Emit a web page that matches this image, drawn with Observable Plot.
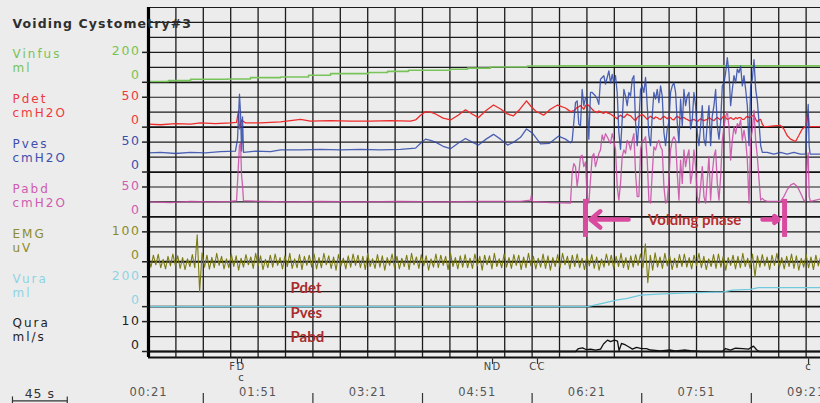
<!DOCTYPE html>
<html><head><meta charset="utf-8">
<script src="https://cdn.jsdelivr.net/npm/d3@7"></script>
<script src="https://cdn.jsdelivr.net/npm/@observablehq/plot@0.6"></script>
<style>
body{margin:0;background:#ececec;}
#chart{width:820px;height:403px;overflow:hidden;background:#ececec;}
</style></head><body><div id="chart"></div>
<script>
// ================= DATA =================
const title = "Voiding Cystometry#3";
const channelNames = ["Vinfus","Pdet","Pves","Pabd","EMG","Vura","Qura"];
const channelUnits = ["ml","cmH2O","cmH2O","cmH2O","uV","ml","ml/s"];
const channelTop   = [200, 50, 50, 50, 100, 200, 10];

// time axis (seconds)
const timeLabels = [21, 111, 201, 291, 381, 471, 561];
const timeTicks  = [66, 156, 246, 336, 426, 516];
const gridStep = 22.5;
const timeEnd = 572.8;
const scaleBarSeconds = 45;

// event markers
const eventNames  = ["FD", "c", "ND", "CC", "c"];
const eventTimes  = [94, 97.4, 303.5, 340.4, 563];

// voiding phase (s)
const voidingPhase = [379.8, 543.3];
const pressureNotes = ["Pdet", "Pves", "Pabd"];

// Vinfus (ml) [t, v]
const vinfus = [[21,5],[37.4,11],[55.5,20],[85.9,22],[104.8,31],[129.4,35],[152.4,47],[170.5,58],[201.7,65],[217.3,73],[234.5,80],[269,87],[283,95],[301.8,102],[332.2,109],[359.3,110],[572.8,110]];

// Pdet (cmH2O)
const pdetPre = [[21,5],[30.9,4],[43.2,6],[55.5,5],[63.7,7],[76,6],[88.3,7],[93.3,8],[94.9,27],[95.7,-3],[97.4,12],[100.7,7],[113,7],[129.4,9],[145.8,13],[154,10],[170.5,11],[186.9,10],[203.3,10],[219.7,11],[236.1,10],[240.3,12],[244.4,20],[248.5,26],[252.6,25],[256.7,22],[262.9,15],[269,12],[275.2,20],[281.3,29],[286.7,22],[292,16],[298.2,28],[304.3,37],[310.5,30],[315.6,22],[320.7,19],[326,30],[331.4,44],[335,35],[338.8,27],[345.4,20],[351,30],[356.9,37],[363.4,32]];
const pdetPost = [[529,1],[534.5,2],[540,3],[542.7,-3],[545.4,-14],[548.2,-20],[552.3,-24],[555,-14],[557.8,-3],[560.5,1],[561.9,18],[562.7,22],[563.5,1],[566,1],[572.8,1]];
// Pves (cmH2O)
const pvesPre = [[21,32],[30.9,33],[43.2,31],[55.5,33],[67.8,32],[80.1,34],[92.4,35],[94.1,55],[95.7,130],[96.6,97],[97.4,35],[98.2,92],[99,33],[108.9,35],[121.2,34],[129.4,37],[145.8,37],[162.2,38],[178.7,37],[195.1,38],[211.5,37],[227.9,38],[240.3,40],[244.4,48],[248.5,55],[252.6,53],[256.7,50],[262.9,43],[269,39],[275.2,48],[281.3,56],[286.7,50],[292,45],[298.2,55],[304.3,63],[310,55],[315.8,45],[321,50],[326.5,58],[331.4,72],[336.3,65],[342.9,47],[350.3,48],[357.6,60],[363.4,55]];
const pvesPost = [[529,33],[534.5,30],[540,33],[545.4,30],[550.9,33],[556.4,30],[560.5,30],[561.9,88],[562.7,113],[563.5,43],[564.3,30],[572.8,30]];
// Pabd (cmH2O)
const pabdPre = [[21,25],[39,24],[55.5,26],[71.9,25],[88.3,26],[93.3,27],[95.7,120],[96.6,123],[97.4,70],[98.2,53],[99,27],[113,26],[137.6,25],[162.2,26],[195.1,25],[227.9,26],[260.8,25],[293.6,26],[326.5,26],[334.7,28],[335.5,37],[336.3,26],[351.1,24]];
const pabdPost = [[529,26],[534.5,26],[540,26],[542.7,34],[545.4,45],[548.2,53],[550.9,56],[553.7,51],[556.4,40],[559.1,28],[560.5,26],[561.9,95],[562.7,107],[563.5,34],[564.6,26],[572.8,30]];

// voiding section, sampled every 1.37 s from 367.5 s
const voidStart = 367.5, voidStep = 1.37;
const pvesVoid = [49,52,83,116,119,80,77,138,111,124,
122,55,133,133,130,127,122,113,155,158,
161,147,158,169,149,163,149,161,133,66,
38,88,138,127,111,133,127,155,161,83,
44,83,138,144,133,158,111,61,44,94,
133,122,138,116,144,127,66,44,72,83,
133,144,149,133,83,49,122,77,138,111,
127,133,72,88,133,111,66,44,77,111,
55,44,83,111,44,94,111,138,77,55,
83,144,149,166,191,166,111,138,161,149,
172,166,177,144,161,138,111,44,144,155,
188,138,119,83,44,33,33];
const pabdVoid = [23,73,89,84,51,73,101,103,84,92,
34,23,62,101,106,84,95,106,112,137,
128,139,134,128,123,139,128,112,51,28,
56,101,112,106,128,123,112,128,139,73,
34,34,112,128,128,134,95,28,23,73,
117,112,123,128,117,112,51,23,28,62,
112,128,134,128,73,28,95,56,112,84,
101,112,56,73,112,84,34,23,51,84,
34,23,62,101,28,73,101,112,56,28,
67,128,151,167,176,151,95,128,151,139,
156,151,162,128,145,128,95,23,128,145,
178,128,101,62,28,31,28];
const pdetVoid = [26,27,27,30,33,34,36,33,30,36,
38,36,33,30,27,26,24,27,26,24,
23,26,24,23,22,20,18,16,14,18,
20,18,16,19,22,20,19,16,13,11,
16,18,20,21,19,16,13,16,18,16,
14,17,16,14,13,16,18,16,14,17,
16,13,12,16,18,16,14,16,16,14,
13,11,11,12,13,11,9,12,14,12,
11,12,13,16,14,12,11,14,16,14,
12,16,19,16,13,14,16,14,13,16,
14,16,16,13,13,16,18,16,17,19,
20,13,9,12,13,5,1];

// EMG (uV), sampled every 2 s from 21 s
const emgStart = 21, emgStep = 2;
const emg = [12,-18,22,-10,25,-20,8,-24,18,-14,
26,-12,20,-22,14,-26,10,-16,24,-20,
90,-100,30,-18,22,-25,15,-20,28,-12,
18,-24,10,-20,26,-16,20,-28,12,-18,
24,-10,16,-22,28,-14,20,-26,8,-20,
22,-18,26,-12,14,-24,20,-16,28,-22,
10,-20,24,-26,18,-12,22,-18,26,-24,
14,-20,28,-10,20,-22,16,-28,24,-14,
12,-24,20,-18,26,-12,22,-20,18,-26,
28,-16,10,-22,24,-18,20,-28,14,-12,
26,-20,18,-24,12,-16,22,-26,28,-10,
16,-22,24,-14,20,-28,10,-18,26,-20,
22,-12,18,-26,28,-16,14,-24,20,-18,
24,-20,12,-22,26,-14,18,-28,22,-10,
20,-24,28,-16,10,-20,26,-18,14,-22,
24,-12,22,-26,16,-20,28,-14,18,-24,
12,-18,26,-22,20,-28,14,-16,24,-20,
28,-10,18,-24,22,-16,26,-20,12,-26,
20,-14,24,-22,16,-28,10,-18,26,-12,
22,-24,18,-16,28,-20,14,-26,20,-18,
24,-12,26,-20,60,-70,22,-28,30,-18,
16,-22,28,-14,20,-26,12,-20,24,-16,
26,-18,14,-24,22,-12,28,-20,18,-26,
10,-16,24,-22,26,-18,20,-28,14,-12,
22,-24,18,-20,28,-16,12,-22,26,-50,
20,-18,24,-14,16,-26,22,-12,28,-20,
14,-24,18,-16,26,-22,20,-28,12,-18,
24,-20,16,-26,22,-14,18];

// Vura (ml)
const vura = [[21,0],[381.5,0],[394.6,24],[406.1,45],[414.3,56],[425,77],[439,84],[464.4,92],[493.2,99],[500.6,110],[515.3,116],[521.9,127],[572.8,127]];
// Qura (ml/s)
const qura = [[21,0],[371.6,0],[374.1,1],[377.4,1.2],[380.7,0.6],[384,0.8],[388.1,0.5],[392.2,0.8],[394.6,2.5],[397.9,3.8],[400.4,3.3],[403.7,3.8],[406.1,3.5],[407.4,0.3],[409.4,2.7],[412.7,2.2],[415.2,1.6],[418.4,0.8],[421.7,1.4],[425.8,1.0],[429.9,1.0],[433.2,0.5],[441.4,0.2],[449.7,0.5],[453.8,0.2],[462,0.5],[466.1,0.3],[474.3,0],[492.4,0],[494.8,1.0],[498.9,0.5],[503,1.1],[508.8,1.0],[513.7,0.8],[517.8,1.8],[520.3,0.6],[522.7,0],[572.8,0]];

// ================= LAYOUT / STYLE =================
const W = 820, H = 403, ML = 148, MT = 7, MB = 46;
const frameRows = 23.4;             // frame height in grid rows
const rowBase = i => 5 + 3 * i;     // zero line row of channel i
const rowOf = (ch, v) => rowBase(ch) - 2 * v / channelTop[ch];
const textColors = ["#79c353","#f03a3c","#3d4fad","#cf5cb0","#8b8b2c","#8fd4e3","#1e1e1e"];
const lineColors = ["#78c35a","#ee2b2b","#2e48a8","#c74aa6","#7b7b14","#6fcade","#111111"];
const pink = "#d84b9f", noteRed = "#a82c2c";
const tStart = timeLabels[0];
const spacing = {"chan-name": "2px", "chan-unit": "2px", "chan-value": "1.6px", "title": "1.1px", "time-label": "1px", "event-label": "1.3px"};

const fromPairs = (pairs, ch) => pairs.map(([t, v]) => ({t, r: rowOf(ch, v)}));
const fromSamples = (start, step, vals, ch) => vals.map((v, i) => ({t: start + i * step, r: rowOf(ch, v)}));

const series = [
  fromPairs(vinfus, 0),
  [...fromPairs(pdetPre, 1), ...fromSamples(voidStart, voidStep, pdetVoid, 1), ...fromPairs(pdetPost, 1)],
  [...fromPairs(pvesPre, 2), ...fromSamples(voidStart, voidStep, pvesVoid, 2), ...fromPairs(pvesPost, 2)],
  [...fromPairs(pabdPre, 3), ...fromSamples(voidStart, voidStep, pabdVoid, 3), ...fromPairs(pabdPost, 3)],
  fromSamples(emgStart, emgStep, emg, 4),
  fromPairs(vura, 5),
  fromPairs(qura, 6)
];

const gridTimes = d3.range(tStart, timeEnd, gridStep);
const zeroRows = channelNames.map((_, i) => rowBase(i));
const thinRows = d3.range(0, 24).filter(r => !zeroRows.includes(r));
const tickRows = channelNames.flatMap((_, i) => [rowBase(i) - 2, rowBase(i)]);
const topLabels = channelNames.map((_, i) => ({r: rowBase(i) - 2, s: String(channelTop[i]), c: textColors[i]}));
const zeroLabels = channelNames.map((_, i) => ({r: rowBase(i), s: "0", c: textColors[i]}));
const fmt = s => String(Math.floor(s / 60)).padStart(2, "0") + ":" + String(s % 60).padStart(2, "0");
const events = eventNames.map((n, i) => ({n, t: eventTimes[i], lvl: (i > 0 && eventTimes[i] - eventTimes[i-1] < 10) ? 1 : 0}));

const traceMarks = series.map((d, i) => Plot.line(d, {
  x: "t", y: "r", stroke: lineColors[i],
  strokeWidth: i === 0 ? 1.6 : (i === 4 ? 1.1 : 1.3),
  strokeOpacity: (i === 2 || i === 3) ? 0.85 : 1,
  curve: i === 0 ? "step-after" : "linear"
}));

const plot = Plot.plot({
  width: W, height: H,
  marginLeft: ML, marginRight: 0, marginTop: MT, marginBottom: MB,
  style: {background: "#ececec", fontFamily: "DejaVu Sans", overflow: "visible"},
  x: {domain: [tStart, timeEnd], axis: null},
  y: {domain: [frameRows, 0], axis: null},
  marks: [
    Plot.ruleY(thinRows, {y: d => d, stroke: "#1c1c1c", strokeWidth: 1.2}),
    Plot.ruleY(zeroRows, {y: d => d, stroke: "#111", strokeWidth: 1.8}),
    Plot.ruleY([frameRows], {y: d => d, stroke: "#111", strokeWidth: 2.2}),
    Plot.ruleX(gridTimes, {x: d => d, stroke: "#1c1c1c", strokeWidth: 1.3}),
    ...traceMarks,
    Plot.ruleX([tStart], {x: d => d, stroke: "#000", strokeWidth: 3.2}),
    Plot.tickY(tickRows, {y: d => d, insetLeft: -6, insetRight: W - ML, stroke: "#222", strokeWidth: 1.5}),
    // channel labels
    Plot.text(channelNames, {y: (d, i) => rowBase(i) - 2, frameAnchor: "left", dx: -136, dy: 2, textAnchor: "start",
      fill: (d, i) => textColors[i], fontSize: 12, ariaDescription: "chan-name"}),
    Plot.text(channelUnits, {y: (d, i) => rowBase(i) - 1, frameAnchor: "left", dx: -136, dy: 1, textAnchor: "start",
      fill: (d, i) => textColors[i], fontSize: 12, ariaDescription: "chan-unit"}),
    Plot.text(topLabels, {y: "r", text: "s", fill: "c", frameAnchor: "left", dx: -8, dy: -1, textAnchor: "end",
      fontSize: 12.5, ariaDescription: "chan-value"}),
    Plot.text(zeroLabels, {y: "r", text: "s", fill: "c", frameAnchor: "left", dx: -8, dy: -7, textAnchor: "end",
      fontSize: 12.5, ariaDescription: "chan-value"}),
    Plot.text([title], {frameAnchor: "top-left", dx: -136, dy: 12, textAnchor: "start", fill: "#2e2e2e",
      fontSize: 12.5, fontWeight: "bold", ariaDescription: "title"}),
    // time axis
    Plot.text(timeLabels, {x: d => d, text: d => fmt(d), frameAnchor: "bottom", dy: 38, fill: "#555", fontSize: 11.5, ariaDescription: "time-label"}),
    Plot.tickX(timeTicks, {x: d => d, insetTop: H - MB - MT + 36, insetBottom: -MB, stroke: "#333", strokeWidth: 1.2}),
    // scale bar
    Plot.link([scaleBarSeconds], {x1: tStart - 111.7, x2: d => tStart - 111.7 + d, y1: 26.3, y2: 26.3, stroke: "#333", strokeWidth: 1.2}),
    Plot.link([0, scaleBarSeconds], {x1: d => tStart - 111.7 + d, x2: d => tStart - 111.7 + d, y1: 26.0, y2: 26.45, stroke: "#333", strokeWidth: 1.2}),
    Plot.text([scaleBarSeconds + " s"], {x: tStart - 111.7 + scaleBarSeconds / 2, y: 25.85, fill: "#333", fontSize: 12.5, ariaDescription: "time-label"}),
    // events
    Plot.tickX(events, {x: "t", insetTop: H - MB - MT, insetBottom: -7, stroke: "#333", strokeWidth: 1.2}),
    Plot.text(events.filter(d => d.lvl === 0), {x: "t", text: "n", frameAnchor: "bottom", dy: 12, fill: "#444", fontSize: 10, ariaDescription: "event-label"}),
    Plot.text(events.filter(d => d.lvl === 1), {x: "t", text: "n", frameAnchor: "bottom", dy: 23, fill: "#444", fontSize: 10, ariaDescription: "event-label"}),
    // voiding phase annotation
    Plot.ruleX(voidingPhase, {x: d => d, y1: 12.83, y2: 15.37, stroke: pink, strokeWidth: 5}),
    Plot.arrow([voidingPhase], {x1: d => d[0] + 35.4, x2: d => d[0] + 4.2, y1: 14.17, y2: 14.17, stroke: pink, strokeWidth: 4.5, headLength: 13, headAngle: 80}),
    Plot.arrow([voidingPhase], {x1: d => d[1] - 18.1, x2: d => d[1] - 5, y1: 14.17, y2: 14.17, stroke: pink, strokeWidth: 4.5, headLength: 13, headAngle: 80}),
    Plot.text(["Voiding phase"], {x: d3.mean(voidingPhase) + 7.9, y: 14.2, fill: "#b5302f", fontFamily: "Lato", fontWeight: "bold", fontSize: 15}),
    Plot.text(pressureNotes, {x: 137.6, y: (d, i) => [18.78, 20.45, 22.06][i], textAnchor: "start", fill: noteRed,
      fontFamily: "Lato", fontWeight: "bold", fontSize: 15})
  ]
});
document.getElementById("chart").appendChild(plot);
// letter spacing by label group
for (const [key, ls] of Object.entries(spacing)) {
  d3.select(plot).selectAll(`[aria-description="${key}"] text`).style("letter-spacing", ls);
}
</script>
</body></html>
